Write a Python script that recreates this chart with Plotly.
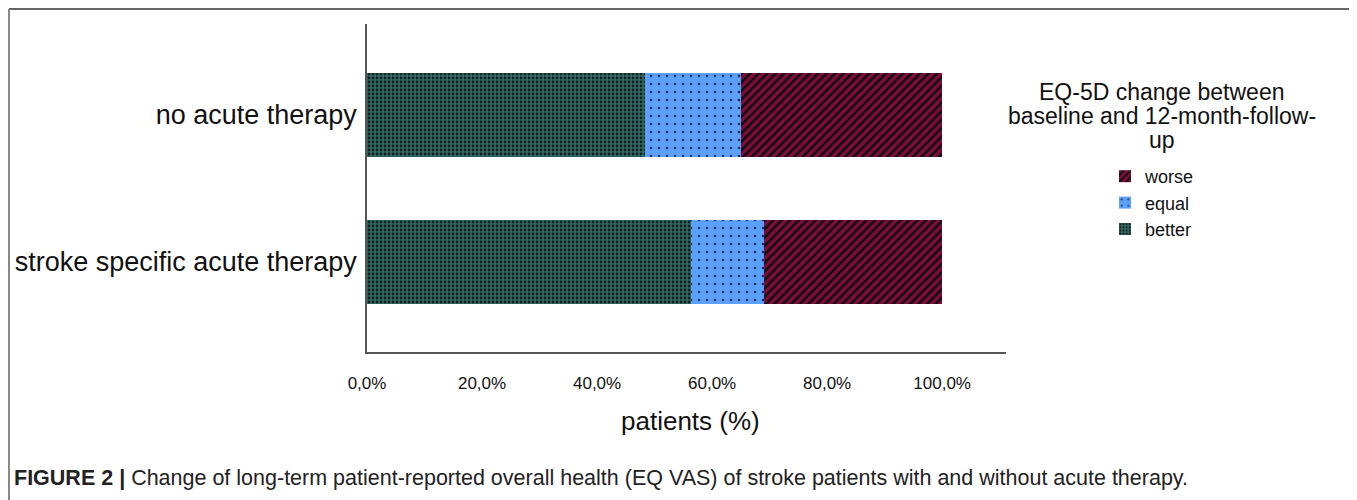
import plotly.graph_objects as go

categories = ["stroke specific acute therapy", "no acute therapy"]
better = [56.3, 48.4]
equal = [12.8, 16.6]
worse = [30.9, 35.0]
tick_vals = [0, 20, 40, 60, 80, 100]
tick_text = ["0,0%", "20,0%", "40,0%", "60,0%", "80,0%", "100,0%"]

OFF = 8  # page body margin
W, H = 1357 - OFF, 500 - OFF
L, R, T, B = 367 - OFF, 1006 - OFF, 24 - OFF, 352 - OFF

SANS = "Liberation Sans, Arial, Helvetica, sans-serif"

fig = go.Figure()
fig.add_trace(go.Bar(
    y=categories, x=better, orientation="h", name="better",
    marker=dict(color="#336b64", line=dict(width=0),
                pattern=dict(shape=".", size=4, solidity=0.38,
                             fgcolor="#14201f", bgcolor="#336b64", fillmode="replace")),
))
fig.add_trace(go.Bar(
    y=categories, x=equal, orientation="h", name="equal",
    marker=dict(color="#5aa0ff", line=dict(width=0),
                pattern=dict(shape=".", size=8, solidity=0.08,
                             fgcolor="#1c2b48", bgcolor="#5aa0ff", fillmode="replace")),
))
fig.add_trace(go.Bar(
    y=categories, x=worse, orientation="h", name="worse",
    marker=dict(color="#850a3c", line=dict(width=0),
                pattern=dict(shape="/", size=6, solidity=0.45,
                             fgcolor="#111111", bgcolor="#850a3c", fillmode="replace")),
))

def px_x(px):
    return (px - OFF - L) / (R - L)

def px_y(py):
    return (B - (py - OFF)) / (B - T)

fig.update_layout(
    width=W, height=H, autosize=False,
    margin=dict(l=L, r=W - R, t=T, b=H - B, pad=0, autoexpand=False),
    paper_bgcolor="white", plot_bgcolor="white",
    barmode="stack", bargap=0.43,
    font=dict(family=SANS, color="#111111"),
    xaxis=dict(range=[0, 111.1], tickvals=tick_vals, ticktext=tick_text,
               showline=True, linecolor="#555555", linewidth=1.5,
               showgrid=False, zeroline=False, automargin=False,
               ticks="outside", ticklen=15, tickcolor="rgba(0,0,0,0)",
               tickfont=dict(size=17, family=SANS, color="#111111")),
    yaxis=dict(range=[-0.612, 1.619], categoryorder="array", categoryarray=categories,
               showline=True, linecolor="#555555", linewidth=1.5,
               showgrid=False, zeroline=False, automargin=False,
               ticks="outside", ticklen=3, tickcolor="rgba(0,0,0,0)",
               tickfont=dict(size=27, family=SANS, color="#111111")),
    legend=dict(x=px_x(1105), y=px_y(158), xanchor="left", yanchor="top",
                traceorder="reversed", font=dict(size=18, family=SANS, color="#111111"),
                bgcolor="rgba(0,0,0,0)", itemwidth=30),
    showlegend=True,
)

annots = [
    ("EQ-5D change between", 1162, 92),
    ("baseline and 12-month-follow-", 1162, 116),
    ("up", 1162, 140),
]
for txt, x, y in annots:
    fig.add_annotation(text=txt, xref="paper", yref="paper", x=px_x(x), y=px_y(y),
                       xanchor="center", yanchor="middle", showarrow=False,
                       font=dict(size=23, family=SANS, color="#111111"))

fig.add_annotation(text="patients (%)", xref="paper", yref="paper",
                   x=px_x(690), y=px_y(421), xanchor="center", yanchor="middle",
                   showarrow=False, font=dict(size=26, family=SANS, color="#111111"))

fig.add_annotation(
    text="<b>FIGURE 2 |</b> Change of long-term patient-reported overall health (EQ VAS) of stroke patients with and without acute therapy.",
    xref="paper", yref="paper", x=px_x(12), y=px_y(478), xanchor="left", yanchor="middle",
    showarrow=False, font=dict(size=21.5, family=SANS, color="#222222"))

# figure frame: top and left edges only (the rest lies outside the view)
fig.add_shape(type="line", xref="paper", yref="paper",
              x0=px_x(9), x1=px_x(1400), y0=px_y(9), y1=px_y(9),
              line=dict(color="#666666", width=2), layer="below")
fig.add_shape(type="line", xref="paper", yref="paper",
              x0=px_x(9), x1=px_x(9), y0=px_y(9), y1=px_y(540),
              line=dict(color="#888888", width=2), layer="below")

fig.write_html("out.html")
